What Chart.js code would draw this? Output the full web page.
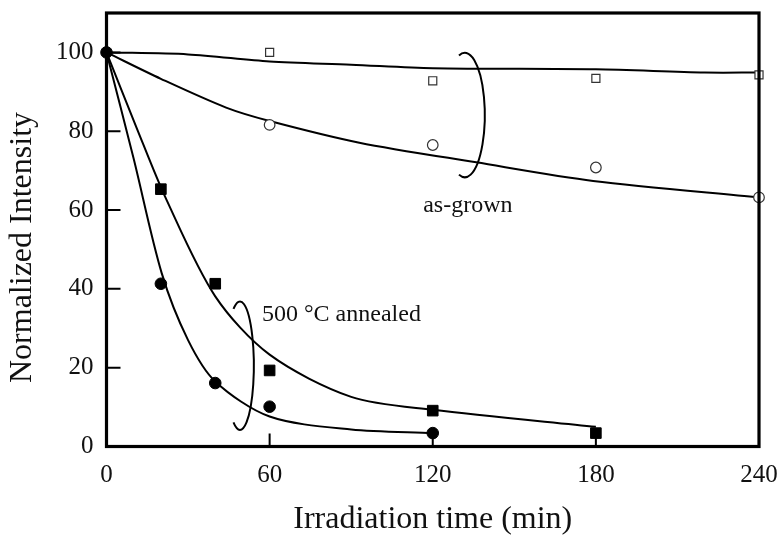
<!DOCTYPE html>
<html>
<head>
<meta charset="utf-8">
<script src="https://cdn.jsdelivr.net/npm/chart.js@4.4.0/dist/chart.umd.min.js"></script>
<style>
  html, body { margin: 0; padding: 0; background: #fff; }
  #wrap { width: 779px; height: 536px; }
</style>
</head>
<body>
<div id="wrap"><canvas id="myChart"></canvas></div>
<script>
// ejes
var xTicks = [0, 60, 120, 180, 240];
var yTicks = [0, 20, 40, 60, 80, 100];

// puntos medidos (min, intensidad normalizada)
var xAsGrown = [60, 120, 180, 240];
var sqAsGrown = [100.0, 92.8, 93.4, 94.3];
var cirAsGrown = [81.6, 76.5, 70.8, 63.2];
var xSqAnneal = [20, 40, 60, 120, 180];
var sqAnneal = [65.3, 41.3, 19.3, 9.1, 3.4];
var xCirAnneal = [0, 20, 40, 60, 120];
var cirAnneal = [100, 41.3, 16.1, 10.1, 3.4];

// curvas de ajuste
var xFitSqAG = [0, 30, 60, 90, 120, 180, 220, 240];
var yFitSqAG = [100, 99.5, 97.7, 96.9, 96.0, 95.7, 94.9, 94.9];
var xFitCirAG = [0, 20, 44, 60, 93, 136, 179, 240];
var yFitCirAG = [100, 93.3, 86.0, 82.6, 77.1, 72.1, 67.4, 63.2];
var xFitSqAn = [0, 11, 22, 40, 60, 90, 120, 180];
var yFitSqAn = [100, 81, 62.7, 38.1, 23.3, 12.6, 9.3, 5.0];
var xFitCirAn = [0, 10, 20.3, 30, 40, 60, 90, 120];
var yFitCirAn = [100, 73, 44, 27, 16.5, 7.6, 4.3, 3.4];

var serif = '"Liberation Serif", "Times New Roman", serif';

function pares(xs, ys) {
  return xs.map(function (x, i) { return { x: x, y: ys[i] }; });
}

function curva(xs, ys) {
  return {
    data: pares(xs, ys),
    borderColor: '#000',
    borderWidth: 2,
    pointRadius: 0,
    fill: false,
    tension: 0.3,
    showLine: true,
    clip: false,
    order: 2
  };
}

function marcas(xs, ys, estilo, relleno, radio) {
  return {
    data: pares(xs, ys),
    showLine: false,
    pointStyle: estilo,
    pointRadius: radio,
    pointBackgroundColor: relleno ? '#000' : '#fff',
    pointBorderColor: relleno ? '#000' : '#333',
    pointBorderWidth: relleno ? 1 : 1.2,
    clip: false,
    order: 1
  };
}

// marco, ticks hacia adentro, llaves y etiquetas
var marco = {
  id: 'marco',
  afterDatasetsDraw: function (chart) {
    var ctx = chart.ctx, a = chart.chartArea;
    var sx = chart.scales.x, sy = chart.scales.y;
    ctx.save();
    ctx.strokeStyle = '#000';
    ctx.lineWidth = 2;
    ctx.beginPath();
    yTicks.forEach(function (v) {
      if (v > 0) {
        var py = sy.getPixelForValue(v);
        ctx.moveTo(a.left, py); ctx.lineTo(a.left + 14, py);
      }
    });
    xTicks.forEach(function (v) {
      if (v > 0 && v < 240) {
        var px = sx.getPixelForValue(v);
        ctx.moveTo(px, a.bottom); ctx.lineTo(px, a.bottom - 13);
      }
    });
    ctx.stroke();

    ctx.lineWidth = 3.2;
    ctx.strokeRect(a.left, a.top, a.right - a.left, a.bottom - a.top);

    function llave(cx, cy, rx, ry, grados) {
      var px = sx.getPixelForValue(cx), py = sy.getPixelForValue(cy);
      var rpx = Math.abs(sx.getPixelForValue(cx + rx) - px);
      var rpy = Math.abs(sy.getPixelForValue(cy + ry) - py);
      var t = grados * Math.PI / 180;
      ctx.beginPath();
      ctx.ellipse(px, py, rpx, rpy, 0, -t, t);
      ctx.stroke();
    }
    ctx.lineWidth = 2;
    llave(131.8, 84.1, 7.35, 15.8, 107);
    llave(49.1, 20.5, 5.1, 16.3, 118);

    ctx.fillStyle = '#111';
    ctx.font = '24px ' + serif;
    ctx.textBaseline = 'middle';
    ctx.textAlign = 'center';
    ctx.fillText('as-grown', sx.getPixelForValue(132.9), sy.getPixelForValue(61.2));
    ctx.textAlign = 'left';
    ctx.fillText('500 \u00B0C annealed', sx.getPixelForValue(57.2), sy.getPixelForValue(33.5));

    // titulo del eje y, algo mas abajo que el centro del eje
    ctx.font = '32px ' + serif;
    ctx.textAlign = 'center';
    ctx.translate(23, sy.getPixelForValue(50.5));
    ctx.rotate(-Math.PI / 2);
    ctx.fillText('Normalized Intensity', 0, 0);
    ctx.restore();
  }
};

var ctx = document.getElementById('myChart').getContext('2d');
var myChart = new Chart(ctx, {
  type: 'scatter',
  data: {
    datasets: [
      marcas(xAsGrown, sqAsGrown, 'rect', false, 5.7),
      marcas(xAsGrown, cirAsGrown, 'circle', false, 5.3),
      marcas(xSqAnneal, sqAnneal, 'rect', true, 7.5),
      marcas(xCirAnneal, cirAnneal, 'circle', true, 5.8),
      curva(xFitSqAG, yFitSqAG),
      curva(xFitCirAG, yFitCirAG),
      curva(xFitSqAn, yFitSqAn),
      curva(xFitCirAn, yFitCirAn)
    ]
  },
  options: {
    responsive: true,
    maintainAspectRatio: false,
    animation: false,
    layout: { autoPadding: false, padding: { left: 0, top: 13, right: 20, bottom: 0 } },
    plugins: {
      legend: { display: false },
      tooltip: { enabled: false }
    },
    scales: {
      x: {
        type: 'linear',
        min: 0,
        max: 240,
        afterBuildTicks: function (s) { s.ticks = xTicks.map(function (v) { return { value: v }; }); },
        afterFit: function (s) {
          s.height = 89.5;
          s.paddingLeft = 0; s.paddingRight = 0; s.paddingTop = 0; s.paddingBottom = 0;
        },
        grid: { display: false, drawTicks: false },
        border: { display: false },
        ticks: { color: '#111', padding: 14, font: { family: serif, size: 25 } },
        title: {
          display: true,
          text: 'Irradiation time (min)',
          color: '#111',
          padding: { top: 0, bottom: -3 },
          font: { family: serif, size: 32 }
        }
      },
      y: {
        type: 'linear',
        min: 0,
        max: 110,
        afterBuildTicks: function (s) { s.ticks = yTicks.map(function (v) { return { value: v }; }); },
        afterFit: function (s) {
          s.width = 106.5;
          s.paddingLeft = 0; s.paddingRight = 0; s.paddingTop = 0; s.paddingBottom = 0;
        },
        grid: { display: false, drawTicks: false },
        border: { display: false },
        ticks: { color: '#111', padding: 13, font: { family: serif, size: 25 } },
        title: { display: false }
      }
    }
  },
  plugins: [marco]
});
</script>
</body>
</html>
